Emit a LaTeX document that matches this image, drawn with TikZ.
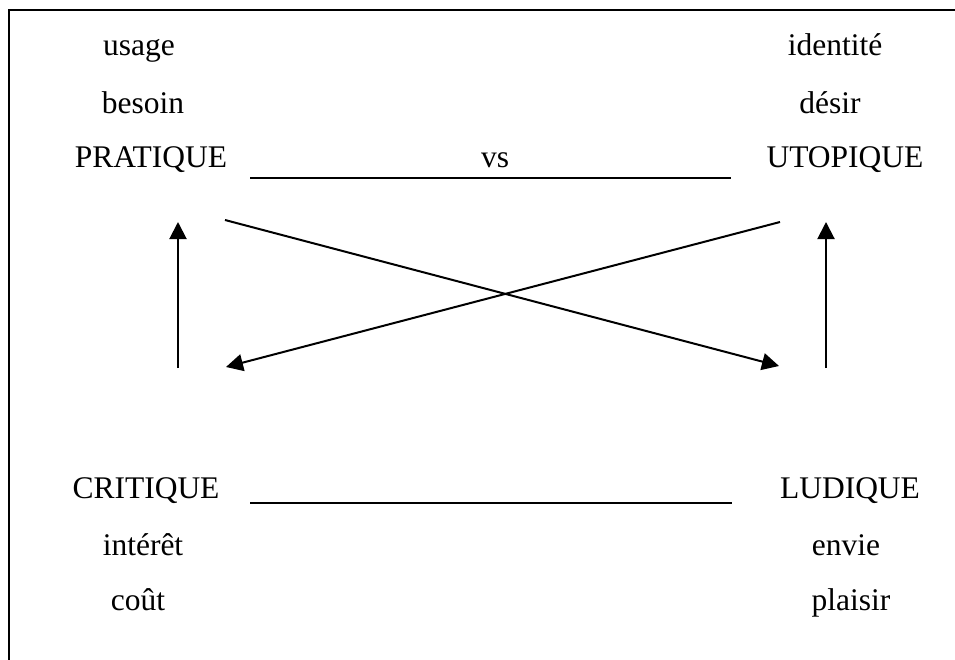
\documentclass[tikz,border=0pt]{standalone}
\usepackage{fontspec}
\setmainfont{Liberation Serif}
\usetikzlibrary{arrows.meta}
\begin{document}
\begin{tikzpicture}[x=1pt,y=-1pt,
  lbl/.style={anchor=base,inner sep=0pt,font=\fontsize{31.5}{38}\selectfont},
  frameline/.style={line width=2.2pt,black},
  rule/.style={line width=2pt,black},
  arr/.style={line width=2pt,black,-{Triangle[length=17pt,width=17pt]}}]
\useasboundingbox (0,0) rectangle (955,659);
\draw[frameline] (9,660) -- (9,10) -- (956,10);
% top-left
\node[lbl] (usage) at (139,55) {usage};
\node[lbl] (besoin) at (143,113) {besoin};
\node[lbl] (pratique) at (151,167) {PRATIQUE};
% top-right
\node[lbl] (identite) at (835,55) {identité};
\node[lbl] (desir) at (830,113) {désir};
\node[lbl] (utopique) at (845,167) {UTOPIQUE};
\node[lbl] (vs) at (495,167) {vs};
% bottom
\node[lbl] (critique) at (146,498) {CRITIQUE};
\node[lbl] (ludique) at (850,498) {LUDIQUE};
\node[lbl] (interet) at (143,555) {intérêt};
\node[lbl] (cout) at (138,610) {coût};
\node[lbl] (envie) at (846,555) {envie};
\node[lbl] (plaisir) at (851,610) {plaisir};
% rules
\coordinate (tl) at (250,178);
\coordinate (tr) at (731,178);
\coordinate (bl) at (250,503);
\coordinate (br) at (732,503);
\draw[rule] (tl) -- (tr);
\draw[rule] (bl) -- (br);
% arrows
\coordinate (lup0) at (178,368);
\coordinate (lup1) at (178,222);
\coordinate (rup0) at (826,368);
\coordinate (rup1) at (826,222);
\coordinate (d1s) at (225,220);
\coordinate (d1e) at (779,366);
\coordinate (d2s) at (780,222);
\coordinate (d2e) at (226,367);
\draw[arr] (lup0) -- (lup1);
\draw[arr] (rup0) -- (rup1);
\draw[arr] (d1s) -- (d1e);
\draw[arr] (d2s) -- (d2e);
\end{tikzpicture}
\end{document}
